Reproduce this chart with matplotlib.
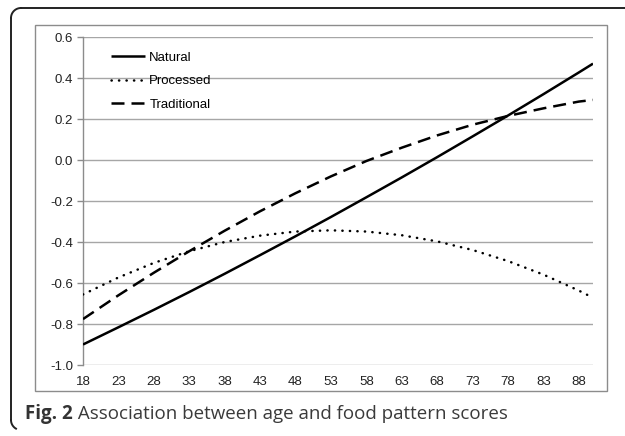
import numpy as np
import matplotlib
matplotlib.use("Agg")
import matplotlib.pyplot as plt
from matplotlib.patches import Rectangle, Arc
from matplotlib.lines import Line2D

# ages read at every 5 years, plus the last age 90
ages = [18, 23, 28, 33, 38, 43, 48, 53, 58, 63, 68, 73, 78, 83, 88, 90]
natural = [-0.900, -0.816, -0.731, -0.644, -0.555, -0.464, -0.372, -0.278,
           -0.182, -0.085, 0.014, 0.115, 0.217, 0.321, 0.427, 0.470]
processed = [-0.656, -0.573, -0.502, -0.445, -0.400, -0.369, -0.349, -0.343,
             -0.349, -0.367, -0.397, -0.439, -0.493, -0.559, -0.637, -0.672]
traditional = [-0.776, -0.660, -0.550, -0.445, -0.345, -0.250, -0.162, -0.080,
               -0.005, 0.060, 0.120, 0.172, 0.215, 0.252, 0.285, 0.293]
xticks = list(range(18, 89, 5))
yticks = [-1.0, -0.8, -0.6, -0.4, -0.2, 0.0, 0.2, 0.4, 0.6]
caption_bold = "Fig. 2"
caption_rest = " Association between age and food pattern scores"

plt.rcParams['font.family'] = ['Liberation Sans', 'DejaVu Sans']

W, H = 625, 436
fig = plt.figure(figsize=(W / 100, H / 100), dpi=100)

def fx(px):
    return px / W

def fy(py):
    return 1 - py / H

# outer frame: only the left side and the top, rounded corners (pixel coords)
rad = 10
edge = '#222222'
fig.add_artist(Line2D([fx(11 + rad), fx(626)], [fy(8), fy(8)],
                      transform=fig.transFigure, color=edge, lw=1.4))
fig.add_artist(Line2D([fx(11), fx(11)], [fy(8 + rad), fy(430 - rad)],
                      transform=fig.transFigure, color=edge, lw=1.4))
ang = np.linspace(0, np.pi / 2, 20)
fig.add_artist(Line2D(fx(11 + rad - rad * np.cos(ang)),
                      fy(8 + rad - rad * np.sin(ang)),
                      transform=fig.transFigure, color=edge, lw=1.4))
ang2 = np.linspace(0, np.pi / 3, 20)
fig.add_artist(Line2D(fx(11 + rad - rad * np.cos(ang2)),
                      fy(430 - rad + rad * np.sin(ang2)),
                      transform=fig.transFigure, color=edge, lw=1.4))

# gray chart box
fig.patches.append(Rectangle((fx(35), fy(391)), fx(607 - 35), fy(25) - fy(391),
                             transform=fig.transFigure, fill=False,
                             edgecolor='#8c8c8c', lw=1.0))

ax = fig.add_axes([fx(83), fy(365), fx(593 - 83), fy(37) - fy(365)])
ax.set_xlim(18, 90)
ax.set_ylim(-1.0, 0.6)

for y in yticks:
    ax.axhline(y, color='#a6a6a6', lw=1.0, zorder=1)

lw = 1.8
ax.plot(ages, natural, color='black', lw=lw, solid_capstyle='butt',
        label='Natural', zorder=3)
ax.plot(ages, processed, color='black', lw=lw, linestyle=(0, (0.1, 2.9)),
        dash_capstyle='round', label='Processed', zorder=3)
ax.plot(ages, traditional, color='black', lw=lw, linestyle=(0, (5.2, 2.8)),
        dash_capstyle='butt', label='Traditional', zorder=3)

for s in ['top', 'right', 'bottom']:
    ax.spines[s].set_visible(False)
ax.spines['left'].set_color('#8c8c8c')
ax.spines['left'].set_linewidth(1.0)

ax.set_yticks(yticks)
ax.set_yticklabels(['%.1f' % v for v in yticks])
ax.set_xticks(xticks)
ax.set_xticklabels([str(v) for v in xticks])
ax.tick_params(axis='y', length=4, width=1.0, color='#8c8c8c', pad=3,
               labelsize=9.5, labelcolor='#222222')
ax.tick_params(axis='x', length=0, pad=8, labelsize=9.5, labelcolor='#222222')

leg = ax.legend(loc='upper left', bbox_to_anchor=(0.055, 0.955), frameon=False,
                fontsize=9.5, handlelength=2.6, handletextpad=0.3,
                labelspacing=0.85, borderpad=0, borderaxespad=0)

# caption
cap_font = ['Open Sans', 'DejaVu Sans']
t1 = fig.text(fx(25), fy(414), caption_bold, fontsize=13.5, fontweight='bold',
              family=cap_font, color='#333333', va='center')
fig.canvas.draw()
bb = t1.get_window_extent()
fig.text(bb.x1 / W, fy(414), caption_rest, fontsize=13.5,
         family=cap_font, color='#3a3a3a', va='center')

fig.savefig('out.png', dpi=100)
